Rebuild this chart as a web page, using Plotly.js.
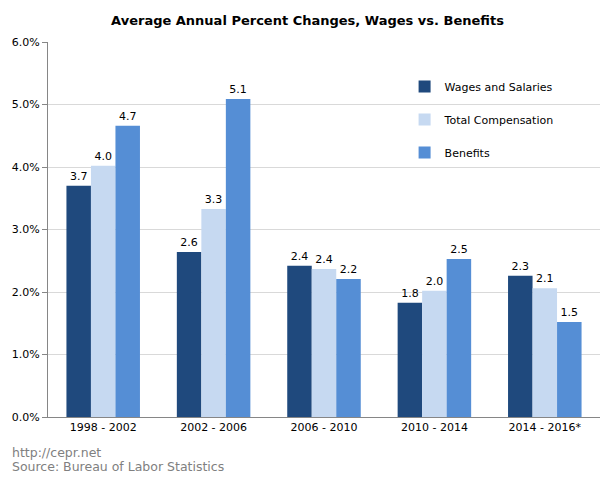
<!DOCTYPE html>
<html>
<head>
<meta charset="utf-8">
<script src="https://cdn.plot.ly/plotly-3.0.1.min.js"></script>
<style>html,body{margin:0;padding:0;background:#fff}#chart{width:615px;height:479px}</style>
</head>
<body>
<div id="chart"></div>
<script>
const categories = ["1998 - 2002", "2002 - 2006", "2006 - 2010", "2010 - 2014", "2014 - 2016*"];
const wagesSalaries = [3.70, 2.64, 2.42, 1.83, 2.26];
const totalCompensation = [4.02, 3.33, 2.37, 2.02, 2.06];
const benefits = [4.66, 5.09, 2.21, 2.53, 1.52];
const seriesNames = ["Wages and Salaries", "Total Compensation", "Benefits"];
const seriesColors = ["#1F497D", "#C6D9F1", "#558ED5"];
const yTickVals = [0, 1, 2, 3, 4, 5, 6];
const yTickText = ["0.0%", "1.0%", "2.0%", "3.0%", "4.0%", "5.0%", "6.0%"];

const font = "DejaVu Sans, Verdana, sans-serif";
const seriesValues = [wagesSalaries, totalCompensation, benefits];
const traces = seriesValues.map((vals, i) => ({
  type: "bar",
  name: seriesNames[i],
  x: categories,
  y: vals,
  marker: {color: seriesColors[i], line: {width: 0}},
  text: vals.map(v => v.toFixed(1)),
  textposition: "outside",
  textfont: {family: font, size: 11, color: "#000"},
  cliponaxis: false,
  legendgroup: "g" + i,
  hoverinfo: "x+y"
}));

const layout = {
  width: 615, height: 479,
  margin: {l: 48, r: 15, t: 42, b: 62},
  paper_bgcolor: "#fff", plot_bgcolor: "#fff",
  font: {family: font, size: 11, color: "#000"},
  title: {text: "<b>Average Annual Percent Changes, Wages vs. Benefits</b>",
          font: {family: font, size: 13, color: "#000"},
          x: 0.5, xanchor: "center", y: 0.958, yanchor: "middle"},
  barmode: "group",
  bargap: 0.334, bargroupgap: 0,
  showlegend: true,
  legend: {x: 0.646, y: 0.92, xanchor: "left", yanchor: "top",
           font: {family: font, size: 11, color: "#000"},
           tracegroupgap: 14, itemwidth: 30, bgcolor: "rgba(0,0,0,0)"},
  xaxis: {type: "category", showline: true, linecolor: "#868686", linewidth: 1,
          ticks: "", showgrid: false, tickfont: {family: font, size: 11, color: "#000"},
          fixedrange: true},
  yaxis: {range: [0, 6], tickvals: yTickVals, ticktext: yTickText,
          showline: true, linecolor: "#868686", linewidth: 1,
          ticks: "outside", ticklen: 5, tickcolor: "#868686",
          showgrid: true, gridcolor: "#D9D9D9", gridwidth: 1,
          zeroline: false, tickfont: {family: font, size: 11, color: "#000"},
          fixedrange: true},
  annotations: [
    {text: "http://cepr.net", xref: "paper", yref: "paper", x: -0.0685, y: -0.094,
     xanchor: "left", yanchor: "middle", showarrow: false,
     font: {family: font, size: 12.5, color: "#808080"}},
    {text: "Source: Bureau of Labor Statistics", xref: "paper", yref: "paper", x: -0.0685, y: -0.131,
     xanchor: "left", yanchor: "middle", showarrow: false,
     font: {family: font, size: 12.5, color: "#808080"}}
  ]
};

Plotly.newPlot("chart", traces, layout, {displayModeBar: false, staticPlot: true});
</script>
</body>
</html>
